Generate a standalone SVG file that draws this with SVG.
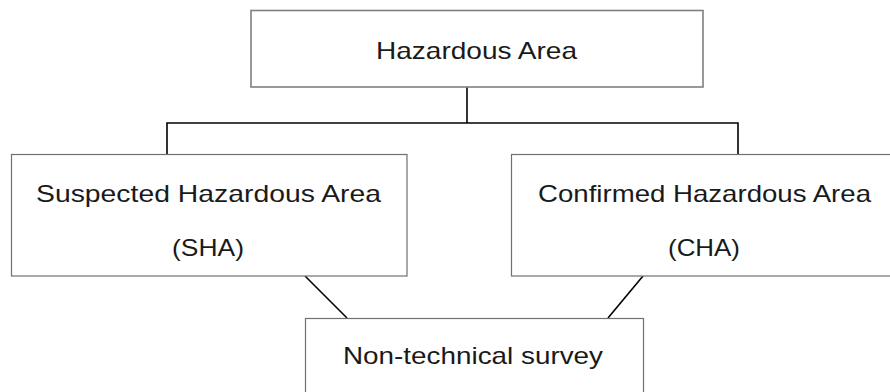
<svg xmlns="http://www.w3.org/2000/svg" width="890" height="392" viewBox="0 0 890 392">
  <style>
    .box { fill: #ffffff; stroke: #707070; stroke-width: 1.2; }
    .top { stroke: #808080; stroke-width: 1.6; }
    .lbl { font-family: "Liberation Sans", Arial, sans-serif; font-size: 24px; fill: #1a1a1a; text-anchor: middle; }
    .link { stroke: #000000; stroke-width: 1.6; fill: none; }
  </style>
  <rect width="890" height="392" fill="#ffffff"/>

  <g id="connectors">
    <polyline class="link" points="467,87 467,123"/>
    <polyline class="link" points="167,154 167,123 738,123 738,154"/>
    <line class="link" x1="305" y1="276" x2="347" y2="318"/>
    <line class="link" x1="643" y1="276" x2="608" y2="318"/>
  </g>

  <g id="hazardous-area">
    <rect class="box top" x="251" y="10.5" width="452" height="76.5"/>
    <text class="lbl" x="476.5" y="59" textLength="201" lengthAdjust="spacingAndGlyphs">Hazardous Area</text>
  </g>

  <g id="sha">
    <rect class="box" x="11.5" y="154.5" width="395.5" height="121.5"/>
    <text class="lbl" x="208.5" y="202" textLength="345" lengthAdjust="spacingAndGlyphs">Suspected Hazardous Area</text>
    <text class="lbl" x="208" y="256" textLength="72" lengthAdjust="spacingAndGlyphs">(SHA)</text>
  </g>

  <g id="cha">
    <rect class="box" x="511.5" y="154.5" width="390" height="121.5"/>
    <text class="lbl" x="704.5" y="202" textLength="333" lengthAdjust="spacingAndGlyphs">Confirmed Hazardous Area</text>
    <text class="lbl" x="704" y="256" textLength="72" lengthAdjust="spacingAndGlyphs">(CHA)</text>
  </g>

  <g id="non-technical-survey">
    <rect class="box" x="305.5" y="318.5" width="338" height="90"/>
    <text class="lbl" x="473" y="364" textLength="260" lengthAdjust="spacingAndGlyphs">Non-technical survey</text>
  </g>
</svg>
